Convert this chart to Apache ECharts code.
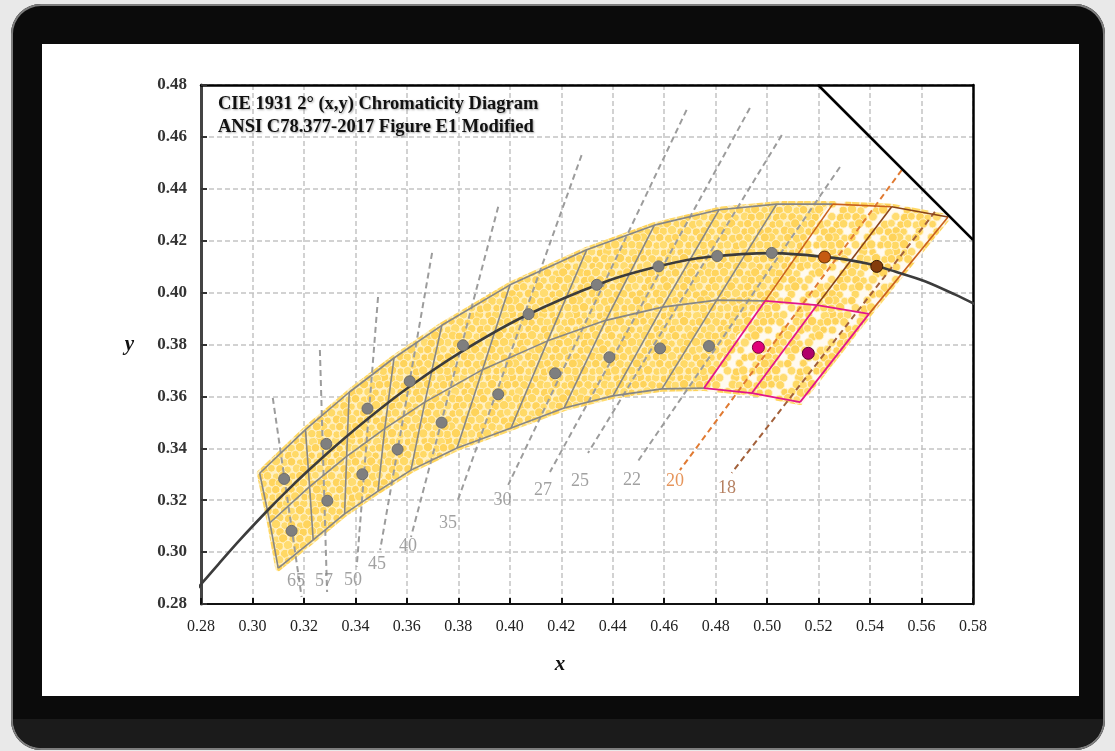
<!DOCTYPE html>
<html>
<head>
<meta charset="utf-8">
<script src="https://cdn.jsdelivr.net/npm/echarts@6/dist/echarts.min.js"></script>
<style>
  html, body { margin: 0; padding: 0; width: 1115px; height: 751px; overflow: hidden; background: #e9e9e9; }
  #bezel { position: absolute; left: 11px; top: 4px; width: 1094px; height: 746px; border-radius: 30px; background: #0b0b0b; box-shadow: inset 0 0 0 2px #7d7d7d; }
  #chin { position: absolute; left: 13px; top: 719px; width: 1090px; height: 29px; background: #1b1b1b; border-radius: 0 0 28px 28px; }
  #screen { position: absolute; left: 42px; top: 44px; width: 1037px; height: 652px; background: #fff; }
  #chart { position: absolute; left: 0; top: 0; width: 1115px; height: 751px; }
</style>
</head>
<body>
<div id="bezel"></div>
<div id="chin"></div>
<div id="screen"></div>
<div id="chart"></div>
<script>
// ---- chromaticity data (CIE 1931 x, y) ----
const planckLocus = [[0.2760,0.2828],[0.2807,0.2884],[0.2869,0.2955],[0.2952,0.3048],[0.3064,0.3166],[0.3135,0.3237],
  [0.3221,0.3318],[0.3324,0.3410],[0.3451,0.3516],[0.3611,0.3638],[0.3805,0.3768],[0.4053,0.3907],[0.4369,0.4041],
  [0.4599,0.4106],[0.4770,0.4137],[0.5019,0.4152],[0.5267,0.4133],[0.5389,0.4112],[0.5497,0.4081],[0.5613,0.4044],
  [0.5729,0.3993],[0.5857,0.3931]];
const spectrumLocus = [[0.5198,0.4800],[0.5800,0.4203]];

// quadrangle boundary vertices, one per iso-CCT divider (left edge .. right edge)
const edgeTop = [[0.3028,0.3304],[0.3206,0.3472],[0.3376,0.3616],[0.3550,0.3748],[0.3736,0.3874],[0.4001,0.4030],
  [0.4299,0.4165],[0.4562,0.4260],[0.4813,0.4319],[0.5037,0.4341],[0.5255,0.4341],[0.5484,0.4331],[0.5703,0.4291]];
const edgeMid = [[0.3068,0.3113],[0.3222,0.3252],[0.3366,0.3369],[0.3514,0.3476],[0.3670,0.3578],[0.3894,0.3703],
  [0.4147,0.3814],[0.4373,0.3893],[0.4593,0.3944],[0.4804,0.3971],[0.4992,0.3968],[0.5194,0.3952],[0.5396,0.3918]];
const edgeBottom = [[0.3100,0.2938],[0.3236,0.3047],[0.3358,0.3147],[0.3488,0.3235],[0.3616,0.3316],[0.3795,0.3401],
  [0.4005,0.3478],[0.4211,0.3555],[0.4401,0.3602],[0.4591,0.3629],[0.4755,0.3632],[0.4941,0.3613],[0.5128,0.3578]];

// nominal CCT centres: upper row on the locus, lower row below it
const cctNames = ['65','57','50','45','40','35','30','27','25','22','20','18'];
const upperCenters = [[0.3123,0.3282],[0.3287,0.3417],[0.3447,0.3553],[0.3611,0.3658],[0.3818,0.3797],[0.4073,0.3917],
  [0.4338,0.4030],[0.4578,0.4101],[0.4806,0.4141],[0.5018,0.4153],[0.5223,0.4137],[0.5426,0.4101]];
const lowerCenters = [[0.3152,0.3082],[0.3291,0.3198],[0.3427,0.3300],[0.3564,0.3396],[0.3735,0.3499],[0.3955,0.3608],
  [0.4176,0.3689],[0.4387,0.3751],[0.4584,0.3785],[0.4774,0.3794],[0.4966,0.3789],[0.5160,0.3766]];

// dashed iso-CCT lines and their labels
const isoTop = [[0.3079,0.3594],[0.3262,0.3779],[0.3488,0.3983],[0.3698,0.4153],[0.3955,0.4331],[0.4279,0.4530],
  [0.4687,0.4704],[0.4933,0.4711],[0.5057,0.4607],[0.5283,0.4484],[0.5523,0.4472],[0.5652,0.4311]];
const isoBottom = [[0.3191,0.2827],[0.3290,0.2846],[0.3405,0.2943],[0.3496,0.3008],[0.3616,0.3058],[0.3794,0.3189],
  [0.3994,0.3259],[0.4156,0.3309],[0.4304,0.3382],[0.4493,0.3343],[0.4661,0.3316],[0.4862,0.3305]];
const cctLabelXY = [[0.3169,0.2889],[0.3278,0.2889],[0.3391,0.2892],[0.3484,0.2954],[0.3604,0.3024],[0.3760,0.3112],
  [0.3972,0.3198],[0.4129,0.3239],[0.4273,0.3274],[0.4475,0.3278],[0.4642,0.3274],[0.4844,0.3246]];

// ---- styling ----
const SERIF = '"Liberation Serif", "Times New Roman", serif';
const GRAY_EDGE = '#868686';
const ORANGE = '#c9601c';
const BROWN = '#8a4317';
const PINK = '#e2168a';

// disc texture used to fill the quadrangle band
function discTexture(dense) {
  const step = 8, cols = 8, rows = 9;
  const w = step * cols, h = rows * 7;
  const rowH = h / rows;
  const c = document.createElement('canvas');
  c.width = w; c.height = h;
  const g = c.getContext('2d');
  g.fillStyle = dense ? '#fff0c2' : '#fffaf0';
  g.fillRect(0, 0, w, h);
  const jit = [0.0, 0.6, -0.4, 0.3, -0.7, 0.5, -0.2, 0.8, -0.5, 0.1, -0.3, 0.7, -0.6];
  const tones = ['#ffd45c', '#ffd966', '#ffdc70', '#fed35a', '#ffd864'];
  let k = 0;
  for (let r = 0; r < rows; r++) {
    for (let col = 0; col < cols; col++, k++) {
      if (!dense && (k % 7 === 3 || k % 11 === 6)) continue;
      const cx = col * step + (r % 2 ? step / 2 : 0) + jit[k % 13] * 1.2;
      const cy = r * rowH + jit[(k + 4) % 13] * 1.2;
      const rr = 4.2 + jit[(k + 7) % 13] * 0.6;
      for (let ox = -w; ox <= w; ox += w) {
        for (let oy = -h; oy <= h; oy += h) {
          g.beginPath();
          g.arc(cx + ox, cy + oy, rr, 0, Math.PI * 2);
          g.fillStyle = tones[k % 5];
          g.fill();
          g.lineWidth = 0.9;
          g.strokeStyle = 'rgba(255,243,205,1)';
          g.stroke();
        }
      }
    }
  }
  return { image: c, repeat: 'repeat' };
}
const denseFill = discTexture(true);
const sparseFill = discTexture(false);

const DUMMY = [[0.43, 0.38]];

function polygonSeries(points, fill, z) {
  return {
    type: 'custom', coordinateSystem: 'cartesian2d', silent: true, clip: true, z,
    data: DUMMY,
    renderItem: (params, api) => ({
      type: 'polygon',
      shape: { points: points.map(p => api.coord(p)) },
      style: { fill: fill, stroke: fill, lineWidth: 6, lineJoin: 'round' }
    })
  };
}

function strokeSeries(lines, style, z) {
  return {
    type: 'custom', coordinateSystem: 'cartesian2d', silent: true, clip: true, z,
    data: DUMMY,
    renderItem: (params, api) => ({
      type: 'group',
      children: lines.map(pts => ({
        type: 'polyline',
        shape: { points: pts.map(p => api.coord(p)) },
        style: Object.assign({ fill: null, lineCap: 'butt', lineJoin: 'round' }, style)
      }))
    })
  };
}

// band outlines
const denseBand = edgeTop.slice(0, 11)
  .concat([edgeMid[10]])
  .concat(edgeBottom.slice(0, 11).reverse())
  .concat([edgeMid[0]]);
const sparseBand = edgeTop.slice(10)
  .concat([edgeMid[12]])
  .concat(edgeBottom.slice(10).reverse())
  .concat([edgeMid[10]]);

const grayDividers = [];
for (let i = 0; i <= 9; i++) grayDividers.push([edgeTop[i], edgeMid[i], edgeBottom[i]]);
const grayEdges = grayDividers.concat([
  edgeTop.slice(0, 11),
  edgeMid.slice(0, 11),
  edgeBottom.slice(0, 11)
]);
const orangeEdges = [[edgeTop[10], edgeTop[11]], [edgeTop[10], edgeMid[10]], [edgeTop[12], edgeMid[12]]];
const brownEdges = [[edgeTop[11], edgeTop[12]], [edgeTop[11], edgeMid[11]]];
const pinkEdges = [
  edgeMid.slice(10), edgeBottom.slice(10),
  [edgeMid[10], edgeBottom[10]], [edgeMid[11], edgeBottom[11]], [edgeMid[12], edgeBottom[12]]
];

const isoGray = [], isoOrange = [], isoBrown = [];
isoTop.forEach((p, i) => {
  const seg = [p, isoBottom[i]];
  if (i < 10) isoGray.push(seg); else if (i === 10) isoOrange.push(seg); else isoBrown.push(seg);
});

function dotSeries(points, color, border, size, z) {
  return {
    type: 'scatter', data: points, symbol: 'circle', symbolSize: size, z, silent: true,
    itemStyle: { color: color, borderColor: border, borderWidth: 1, opacity: 1 }
  };
}

const labelColors = cctNames.map((_, i) => i < 10 ? '#8a8a8a' : (i === 10 ? '#e07a32' : '#a2603a'));

const frameAxis = { show: true, lineStyle: { color: '#000', width: 2.5 } };

const option = {
  backgroundColor: 'transparent',
  animation: false,
  title: {
    left: 213, top: 88,
    text: 'CIE 1931 2° (x,y) Chromaticity Diagram\nANSI C78.377-2017 Figure E1 Modified',
    textStyle: {
      fontFamily: SERIF, fontWeight: 'bold', fontSize: 18.5, color: '#111', lineHeight: 22.5,
      textShadowColor: 'rgba(0,0,0,0.35)', textShadowBlur: 2, textShadowOffsetX: 1, textShadowOffsetY: 1
    }
  },
  grid: { left: 201, top: 85, width: 772, height: 519, show: false },
  xAxis: [{
    type: 'value', min: 0.28, max: 0.58, interval: 0.02,
    name: 'x', nameLocation: 'middle', nameGap: 50,
    nameTextStyle: { fontFamily: SERIF, fontStyle: 'italic', fontWeight: 'bold', fontSize: 21, color: '#111', padding: [0, 54, 0, 0] },
    axisLine: { show: true, lineStyle: { color: '#111', width: 2 } },
    axisTick: { show: true, inside: true, length: 6, lineStyle: { color: '#111', width: 2 } },
    axisLabel: { margin: 15, fontFamily: SERIF, fontSize: 16, color: '#222', formatter: v => v.toFixed(2) },
    splitLine: { show: true, lineStyle: { color: '#c3c3c3', width: 1.5, type: [5, 3] } }
  }, {
    type: 'value', position: 'top', min: 0.28, max: 0.58,
    axisLine: frameAxis, axisTick: { show: false }, axisLabel: { show: false }, splitLine: { show: false }
  }],
  yAxis: [{
    type: 'value', min: 0.28, max: 0.48, interval: 0.02,
    name: 'y', nameLocation: 'middle', nameGap: 67, nameRotate: 0,
    nameTextStyle: { fontFamily: SERIF, fontStyle: 'italic', fontWeight: 'bold', fontSize: 21, color: '#111' },
    axisLine: { show: true, lineStyle: { color: '#444', width: 3 } },
    axisTick: { show: true, inside: true, length: 6, lineStyle: { color: '#333', width: 2 } },
    axisLabel: { margin: 14, fontFamily: SERIF, fontSize: 17, fontWeight: 'bold', color: '#333', formatter: v => v.toFixed(2) },
    splitLine: { show: true, lineStyle: { color: '#c3c3c3', width: 1.5, type: [5, 3] } }
  }, {
    type: 'value', position: 'right', min: 0.28, max: 0.48,
    axisLine: frameAxis, axisTick: { show: false }, axisLabel: { show: false }, splitLine: { show: false }
  }],
  series: [
    polygonSeries(denseBand, denseFill, 2),
    polygonSeries(sparseBand, sparseFill, 2),
    strokeSeries(isoGray, { stroke: '#9c9c9c', lineWidth: 2, lineDash: [6, 4] }, 3),
    strokeSeries(isoOrange, { stroke: '#e07a32', lineWidth: 2, lineDash: [6, 4] }, 3),
    strokeSeries(isoBrown, { stroke: '#a2603a', lineWidth: 2, lineDash: [6, 4] }, 3),
    strokeSeries(grayEdges, { stroke: GRAY_EDGE, lineWidth: 1.6 }, 4),
    strokeSeries(orangeEdges, { stroke: ORANGE, lineWidth: 1.6 }, 5),
    strokeSeries(brownEdges, { stroke: BROWN, lineWidth: 1.6 }, 5),
    strokeSeries(pinkEdges, { stroke: PINK, lineWidth: 1.8 }, 5),
    {
      type: 'line', data: planckLocus, showSymbol: false, smooth: 0.3, z: 6, silent: true, clip: true,
      lineStyle: { color: '#3c3c3c', width: 2.6 }
    },
    {
      type: 'line', data: spectrumLocus, showSymbol: false, z: 6, silent: true, clip: true,
      lineStyle: { color: '#000', width: 2.6 }
    },
    dotSeries(upperCenters.slice(0, 10), '#7f7f7f', '#6d6d6d', 11, 7),
    dotSeries(lowerCenters.slice(0, 10), '#7f7f7f', '#6d6d6d', 11, 7),
    dotSeries([upperCenters[10]], '#c55a11', '#5a2a08', 12, 7),
    dotSeries([upperCenters[11]], '#843c0c', '#3a1a05', 12, 7),
    dotSeries([lowerCenters[10]], '#e0007a', '#7a0040', 12, 7),
    dotSeries([lowerCenters[11]], '#b0006a', '#5a0036', 12, 7),
    {
      type: 'scatter', z: 8, silent: true, symbol: 'circle', symbolSize: 1,
      itemStyle: { color: 'transparent' },
      data: cctLabelXY.map((p, i) => ({
        value: p,
        label: { formatter: cctNames[i], color: labelColors[i] }
      })),
      label: { show: true, position: 'inside', fontFamily: SERIF, fontSize: 18 }
    }
  ]
};

const chart = echarts.init(document.getElementById('chart'), null, { renderer: 'canvas' });
chart.setOption(option);
</script>
</body>
</html>
